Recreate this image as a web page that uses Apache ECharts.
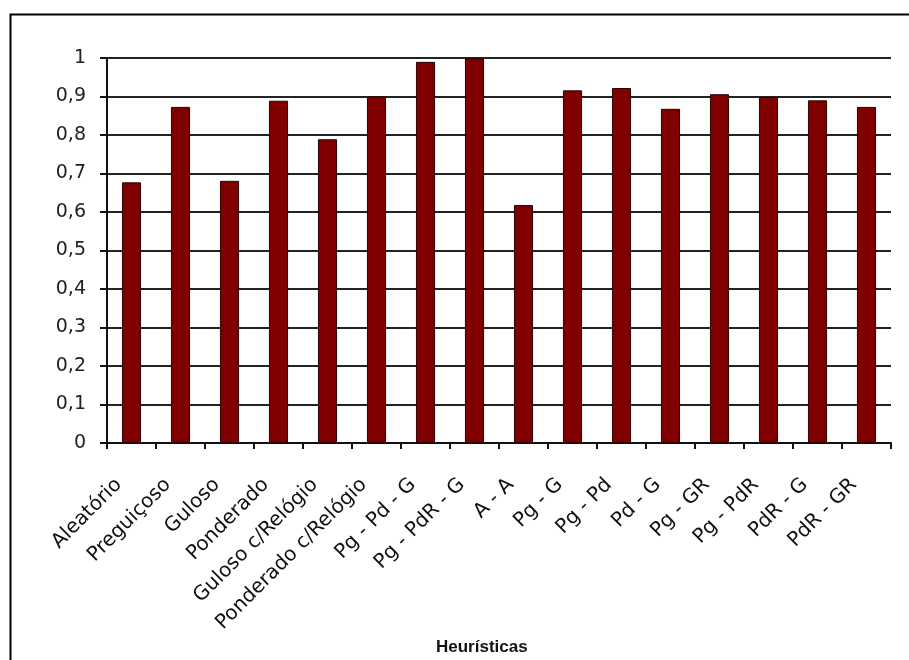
<!DOCTYPE html>
<html>
<head>
<meta charset="utf-8">
<script src="https://cdn.jsdelivr.net/npm/echarts@6/dist/echarts.min.js"></script>
<style>
  html, body { margin: 0; padding: 0; background: #fff; }
  #chart { width: 909px; height: 660px; }
</style>
</head>
<body>
<div id="chart"></div>
<script>
var heuristicas = [ 'Aleatório', 'Preguiçoso', 'Guloso', 'Ponderado', 'Guloso c/Relógio',
	'Ponderado c/Relógio', 'Pg - Pd - G', 'Pg - PdR - G', 'A - A', 'Pg - G', 'Pg - Pd',
	'Pd - G', 'Pg - GR', 'Pg - PdR', 'PdR - G', 'PdR - GR' ];
var valores = [ 0.677, 0.873, 0.681, 0.889, 0.789, 0.9, 0.99, 0.999, 0.618, 0.916, 0.922,
	0.868, 0.906, 0.899, 0.89, 0.873 ];
var eixoY = { min : 0, max : 1, passo : 0.1 };
var tituloX = 'Heurísticas';

var chart = echarts.init(document.getElementById('chart'));
var option = {
	animation : false,
	backgroundColor : '#fff',
	title : {
		text : tituloX,
		left : 436,
		top : 639,
		padding : 0,
		textStyle : {
			fontFamily : 'Liberation Sans',
			fontWeight : 'bold',
			fontSize : 17,
			color : '#111'
		}
	},
	graphic : [ {
		type : 'rect',
		left : 8,
		top : 12,
		shape : { width : 1000, height : 1000 },
		style : { fill : 'none', stroke : '#000', lineWidth : 2 }
	} ],
	grid : {
		left : 107,
		right : 18,
		top : 58,
		bottom : 217,
		containLabel : false
	},
	xAxis : {
		type : 'category',
		data : heuristicas,
		boundaryGap : true,
		axisLine : { lineStyle : { color : '#111', width : 2 } },
		axisTick : { show : true, interval : 0, length : 6, lineStyle : { color : '#111', width : 2 } },
		axisLabel : {
			interval : 0,
			rotate : 45,
			margin : 26,
			padding : [ 0, 18, 0, 0 ],
			fontFamily : 'DejaVu Sans',
			fontSize : 20,
			color : '#111'
		}
	},
	yAxis : {
		type : 'value',
		min : eixoY.min,
		max : eixoY.max,
		interval : eixoY.passo,
		axisLine : { show : true, lineStyle : { color : '#111', width : 2 } },
		axisTick : { show : true, length : 7, lineStyle : { color : '#111', width : 2 } },
		splitLine : { show : true, lineStyle : { color : '#222', width : 2 } },
		axisLabel : {
			margin : 21,
			fontFamily : 'DejaVu Sans',
			fontSize : 19,
			color : '#222',
			formatter : function(v) {
				return String(Math.round(v * 10) / 10).replace('.', ',');
			}
		}
	},
	series : [ {
		type : 'bar',
		data : valores,
		barWidth : '39%',
		itemStyle : {
			color : '#800000',
			borderColor : '#2a0000',
			borderWidth : 1
		}
	} ]
};
chart.setOption(option);
</script>
</body>
</html>
